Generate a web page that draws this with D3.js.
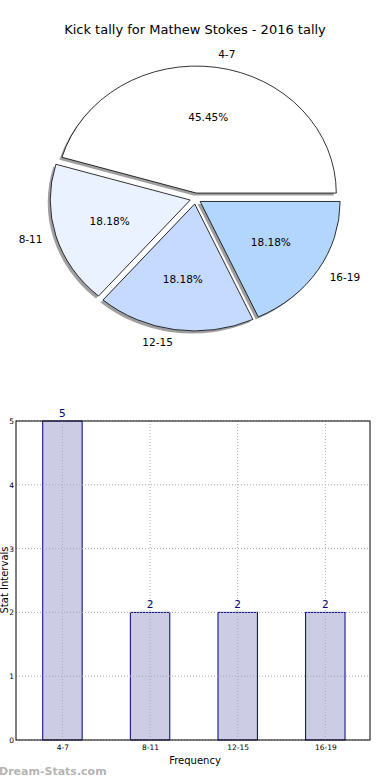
<!DOCTYPE html>
<html>
<head>
<meta charset="utf-8">
<script src="https://cdn.jsdelivr.net/npm/d3@7"></script>
<style>
  body { margin: 0; background: #fff; }
  svg { display: block; font-family: "DejaVu Sans", sans-serif; }
</style>
</head>
<body>
<svg id="chart" width="390" height="780"></svg>
<script>
// data
var categories = ["4-7", "8-11", "12-15", "16-19"];
var counts = [5, 2, 2, 2];
var sliceColors = ["#ffffff", "#ebf2ff", "#c6d9ff", "#b3d6ff"];
var yTicks = [0, 1, 2, 3, 4, 5];

var svg = d3.select("#chart");

svg.append("text")
  .attr("x", 195).attr("y", 34)
  .attr("text-anchor", "middle")
  .style("font-size", "13px")
  .text("Kick tally for Mathew Stokes - 2016 tally");

// ---- pie (elliptical, exploded, with shadow) ----
var cx = 195.5, cy = 198.5, rx = 140, ry = 127, explode = 5.5;
var total = d3.sum(counts);

// angles counterclockwise from 3 o'clock, like matplotlib
var pie = d3.pie().sort(null).value(function(d){ return d; })
  .startAngle(0).endAngle(2 * Math.PI);
var arcs = pie(counts);

function pt(a, r) { // a in radians, ccw from +x
  return [Math.cos(a) * rx * r, -Math.sin(a) * ry * r];
}
function wedgePath(d) {
  var a0 = d.startAngle, a1 = d.endAngle;
  var p0 = pt(a0, 1), p1 = pt(a1, 1);
  var large = (a1 - a0) > Math.PI ? 1 : 0;
  // sweep 0 in svg = counterclockwise on screen
  return "M0,0L" + p0[0] + "," + p0[1] +
    "A" + rx + "," + ry + " 0 " + large + " 0 " + p1[0] + "," + p1[1] + "Z";
}

var pieG = svg.append("g").attr("transform", "translate(" + cx + "," + cy + ")");

var slices = pieG.selectAll(".slice")
  .data(arcs)
  .enter().append("g")
  .attr("class", "slice")
  .attr("transform", function(d){
    var m = (d.startAngle + d.endAngle) / 2;
    return "translate(" + (Math.cos(m) * explode) + "," + (-Math.sin(m) * explode) + ")";
  });

// shadows first
slices.append("path")
  .attr("d", wedgePath)
  .attr("transform", "translate(-2.5,2.5)")
  .style("fill", "#7f7f7f")
  .style("fill-opacity", 0.75);

slices.each(function(d, i){
  d3.select(this).append("path")
    .attr("d", wedgePath(d))
    .style("fill", sliceColors[i])
    .style("stroke", "#000")
    .style("stroke-width", 0.8);
});

slices.append("text")
  .attr("x", function(d){ var m = (d.startAngle + d.endAngle) / 2; return pt(m, 0.6)[0]; })
  .attr("y", function(d){ var m = (d.startAngle + d.endAngle) / 2; return pt(m, 0.6)[1]; })
  .attr("dy", "0.35em")
  .attr("text-anchor", "middle")
  .style("font-size", "10.5px")
  .text(function(d){ return (d.value / total * 100).toFixed(2) + "%"; });

slices.append("text")
  .attr("x", function(d){ var m = (d.startAngle + d.endAngle) / 2; return pt(m, 1.1)[0]; })
  .attr("y", function(d){ var m = (d.startAngle + d.endAngle) / 2; return pt(m, 1.1)[1]; })
  .attr("dy", "0.35em")
  .attr("text-anchor", function(d){
    var m = (d.startAngle + d.endAngle) / 2;
    return Math.cos(m) >= 0 ? "start" : "end";
  })
  .style("font-size", "10.5px")
  .text(function(d, i){ return categories[i]; });

// ---- bar chart ----
var plotL = 16, plotR = 370, plotT = 421, plotB = 740;
var x = d3.scaleLinear().domain([-0.53, 3.51]).range([plotL, plotR]);
var y = d3.scaleLinear().domain([0, 5]).range([plotB, plotT]);
var barW = 0.45;

var bars = svg.append("g");

bars.selectAll(".bar").data(counts).enter().append("rect")
  .attr("x", function(d, i){ return x(i - barW / 2); })
  .attr("width", function(){ return x(barW) - x(0); })
  .attr("y", function(d){ return y(d); })
  .attr("height", function(d){ return y(0) - y(d); })
  .style("fill", "#ccccE5")
  .style("stroke", "#000080")
  .style("stroke-width", 1);

// dotted grid drawn over the bars
bars.selectAll(".vgrid").data(categories).enter().append("line")
  .attr("x1", function(d, i){ return x(i); }).attr("x2", function(d, i){ return x(i); })
  .attr("y1", plotT).attr("y2", plotB)
  .style("stroke", "#a9a9b4").style("stroke-width", 1)
  .style("stroke-dasharray", "1,2");
bars.selectAll(".hgrid").data(yTicks).enter().append("line")
  .attr("x1", plotL).attr("x2", plotR)
  .attr("y1", function(d){ return y(d); }).attr("y2", function(d){ return y(d); })
  .style("stroke", "#a9a9b4").style("stroke-width", 1)
  .style("stroke-dasharray", "1,2");

bars.selectAll(".val").data(counts).enter().append("text")
  .attr("x", function(d, i){ return x(i); })
  .attr("y", function(d){ return y(d) - 4; })
  .attr("text-anchor", "middle")
  .style("font-size", "10.5px")
  .style("fill", "#000080")
  .text(function(d){ return d; });

// frame
bars.append("rect")
  .attr("x", plotL).attr("y", plotT)
  .attr("width", plotR - plotL).attr("height", plotB - plotT)
  .style("fill", "none").style("stroke", "#000").style("stroke-width", 1);

// axes labels
var yAxis = d3.axisLeft(y).tickValues(yTicks).tickSize(0).tickPadding(2)
  .tickFormat(d3.format("d"));
svg.append("g").attr("transform", "translate(" + plotL + ",0)").call(yAxis)
  .call(function(g){ g.select(".domain").remove(); })
  .selectAll("text").style("font-size", "7.5px").style("font-family", "DejaVu Sans");

var xAxis = d3.axisBottom(x).tickValues([0, 1, 2, 3]).tickSize(0).tickPadding(5)
  .tickFormat(function(d){ return categories[d]; });
svg.append("g").attr("transform", "translate(0," + plotB + ")").call(xAxis)
  .call(function(g){ g.select(".domain").remove(); })
  .selectAll("text").style("font-size", "7.5px").style("font-family", "DejaVu Sans");

svg.append("text")
  .attr("x", 195).attr("y", 764)
  .attr("text-anchor", "middle")
  .style("font-size", "10px")
  .text("Frequency");

svg.append("text")
  .attr("transform", "translate(8,580) rotate(-90)")
  .attr("text-anchor", "middle")
  .style("font-size", "10px")
  .text("Stat Intervals");

svg.append("text")
  .attr("x", -1).attr("y", 775)
  .style("font-size", "11px")
  .style("font-weight", "bold")
  .style("fill", "#a0a0a0")
  .style("fill-opacity", 0.8)
  .text("Dream-Stats.com");
</script>
</body>
</html>
